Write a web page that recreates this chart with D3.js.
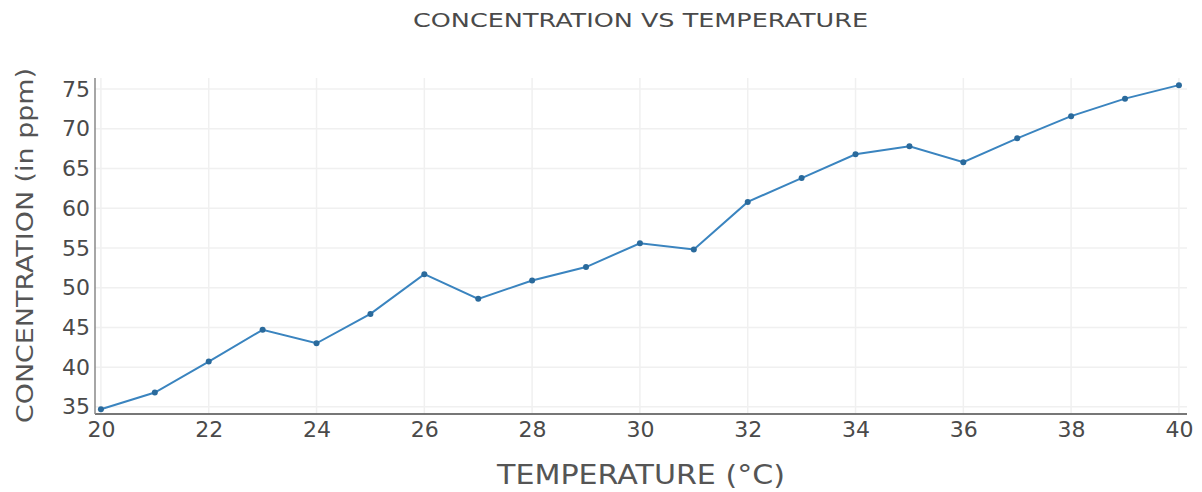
<!DOCTYPE html>
<meta charset="utf-8">
<script src="https://d3js.org/d3.v7.min.js"></script>
<style>
  body { margin: 0; background: #fff; }
</style>
<div id="chart"></div>
<script>

// data
var temperature = [20, 21, 22, 23, 24, 25, 26, 27, 28, 29, 30, 31, 32, 33, 34, 35, 36, 37, 38, 39, 40];
var concentration = [34.7, 36.8, 40.7, 44.7, 43.0, 46.7, 51.7, 48.6, 50.9, 52.6, 55.6, 54.8, 60.8, 63.8, 66.8, 67.8, 65.8, 68.8, 71.6, 73.8, 75.5];
var xTicks = [20, 22, 24, 26, 28, 30, 32, 34, 36, 38, 40];
var yTicks = [35, 40, 45, 50, 55, 60, 65, 70, 75];

var W = 1202, H = 492;
// plot area edges (don't call it "top", that's window.top)
var plotL = 95, plotR = 1187, plotT = 78, plotB = 414;
var font = "DejaVu Sans, Verdana, sans-serif";

var svg = d3.select("#chart").append("svg")
    .attr("width", W)
    .attr("height", H);

var x = d3.scaleLinear().domain([19.89, 40.15]).range([plotL, plotR]);
var y = d3.scaleLinear().domain([34.1, 76.4]).range([plotB, plotT]);

// grid
svg.append("g").selectAll("line").data(xTicks).enter().append("line")
    .attr("x1", function(d) { return x(d); })
    .attr("x2", function(d) { return x(d); })
    .attr("y1", plotT).attr("y2", plotB)
    .style("stroke", "#f0f0f0").style("stroke-width", 1.5);
svg.append("g").selectAll("line").data(yTicks).enter().append("line")
    .attr("x1", plotL).attr("x2", plotR)
    .attr("y1", function(d) { return y(d); })
    .attr("y2", function(d) { return y(d); })
    .style("stroke", "#f0f0f0").style("stroke-width", 1.5);

// axes
var xAxis = svg.append("g")
    .attr("transform", "translate(0," + plotB + ")")
    .call(d3.axisBottom(x).tickValues(xTicks).tickSize(0).tickPadding(7));
var yAxis = svg.append("g")
    .attr("transform", "translate(" + plotL + ",0)")
    .call(d3.axisLeft(y).tickValues(yTicks).tickSize(0).tickPadding(5));

xAxis.select(".domain").remove();
yAxis.select(".domain").remove();
svg.selectAll(".tick text")
    .style("font-family", font)
    .style("font-size", "22px")
    .style("fill", "#4a4a4a");

svg.append("line")
    .attr("x1", plotL).attr("x2", plotR)
    .attr("y1", plotB).attr("y2", plotB)
    .style("stroke", "#777").style("stroke-width", 2);
svg.append("line")
    .attr("x1", plotL).attr("x2", plotL)
    .attr("y1", plotT).attr("y2", plotB)
    .style("stroke", "#888").style("stroke-width", 1.5);

// line + dots
var pts = temperature.map(function(t, i) { return [t, concentration[i]]; });

svg.append("path")
    .datum(pts)
    .attr("d", d3.line()
      .x(function(d) { return x(d[0]); })
      .y(function(d) { return y(d[1]); }))
    .style("fill", "none")
    .style("stroke", "#3a84bf")
    .style("stroke-width", 2);

svg.append("g").selectAll("circle").data(pts).enter().append("circle")
    .attr("cx", function(d) { return x(d[0]); })
    .attr("cy", function(d) { return y(d[1]); })
    .attr("r", 3)
    .style("fill", "#2a6a9c");

// titles
svg.append("text")
    .attr("x", 413).attr("y", 27)
    .attr("textLength", 455).attr("lengthAdjust", "spacingAndGlyphs")
    .text("CONCENTRATION VS TEMPERATURE")
    .style("font-family", font).style("font-size", "19px").style("fill", "#4a4a4a");

svg.append("text")
    .attr("x", 497).attr("y", 484)
    .attr("textLength", 288).attr("lengthAdjust", "spacingAndGlyphs")
    .text("TEMPERATURE (°C)")
    .style("font-family", font).style("font-size", "26px").style("fill", "#555");

svg.append("text")
    .attr("transform", "translate(33,423) rotate(-90)")
    .attr("textLength", 355).attr("lengthAdjust", "spacingAndGlyphs")
    .text("CONCENTRATION (in ppm)")
    .style("font-family", font).style("font-size", "23px").style("fill", "#555");

</script>
